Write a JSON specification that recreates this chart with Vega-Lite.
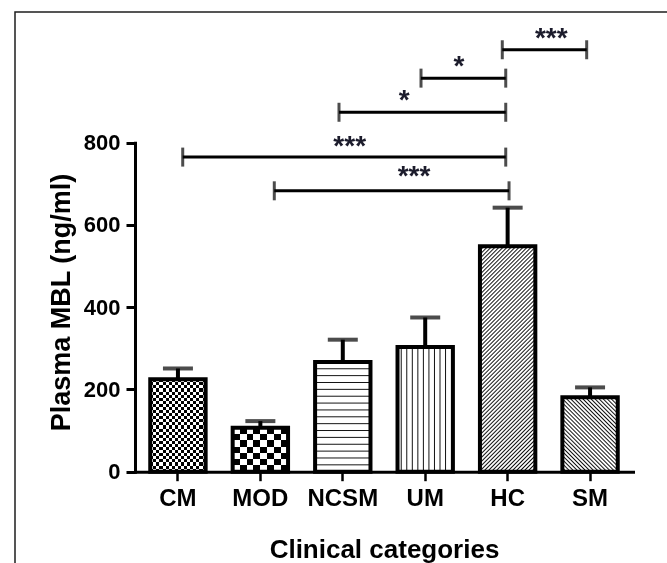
{
  "$schema": "https://vega.github.io/schema/vega-lite/v6.json",
  "width": 660,
  "height": 560,
  "autosize": {"type": "none"},
  "padding": {"left": 15, "top": 12, "right": -8, "bottom": -9},
  "background": "#ffffff",
  "config": {"view": {"stroke": "#1e1e1e", "strokeWidth": 1.5}, "font": "Liberation Sans"},
  "datasets": {
    "bars": [
      {"group": "CM", "mean": 225, "upper": 251},
      {"group": "MOD", "mean": 107, "upper": 123},
      {"group": "NCSM", "mean": 267, "upper": 321},
      {"group": "UM", "mean": 303, "upper": 375},
      {"group": "HC", "mean": 548, "upper": 642},
      {"group": "SM", "mean": 181, "upper": 205}
    ],
    "sig": [
      {"pair": "HC vs SM", "from": 3.935, "to": 4.959, "level": 1026, "label": "***", "lx": 4.53, "ly": 1062},
      {"pair": "UM vs HC", "from": 2.949, "to": 3.977, "level": 957, "label": "*", "lx": 3.41, "ly": 994},
      {"pair": "NCSM vs HC", "from": 1.954, "to": 3.977, "level": 874, "label": "*", "lx": 2.746, "ly": 910},
      {"pair": "CM vs HC", "from": 0.058, "to": 3.977, "level": 765, "label": "***", "lx": 2.084, "ly": 799},
      {"pair": "MOD vs HC", "from": 1.169, "to": 4.017, "level": 683, "label": "***", "lx": 2.864, "ly": 726}
    ]
  },
  "layer": [
    {
      "data": {"name": "bars"},
      "encoding": {
        "x": {
          "field": "group", "type": "nominal", "sort": null,
          "scale": {"domain": ["CM", "MOD", "NCSM", "UM", "HC", "SM"], "range": [120, 618], "paddingInner": 0.328, "paddingOuter": 0.185},
          "axis": {
            "title": "Clinical categories", "labelAngle": 0, "offset": -100.3,
            "domainColor": "#000", "domainWidth": 3, "domainCap": "square",
            "tickColor": "#000", "tickWidth": 2.5, "tickSize": 9,
            "labelFont": "Liberation Sans", "labelFontSize": 24, "labelFontWeight": "bold", "labelColor": "#000", "labelPadding": 6,
            "titleFont": "Liberation Sans", "titleFontSize": 26, "titleFontWeight": "bold", "titleColor": "#000", "titlePadding": 26
          }
        },
        "y": {
          "field": "mean", "type": "quantitative", "title": "Plasma MBL (ng/ml)",
          "scale": {"domain": [0, 800], "range": [459.7, 130.7], "nice": false, "zero": true},
          "axis": {
            "title": "Plasma MBL (ng/ml)", "values": [0, 200, 400, 600, 800], "offset": -120, "grid": false,
            "domainColor": "#000", "domainWidth": 3, "domainCap": "square",
            "tickColor": "#000", "tickWidth": 3, "tickSize": 9,
            "labelFont": "Liberation Sans", "labelFontSize": 22, "labelFontWeight": "bold", "labelColor": "#000", "labelPadding": 6, "labelFlush": false,
            "titleFont": "Liberation Sans", "titleFontSize": 27, "titleFontWeight": "bold", "titleColor": "#000", "titlePadding": 8, "titleY": 290
          }
        }
      },
      "layer": [
        {"mark": {"type": "rule", "strokeWidth": 4, "color": "#000"}, "encoding": {"y2": {"field": "upper"}}},
        {
          "transform": [{"filter": "datum.group === 'CM'"}],
          "mark": {"type": "bar", "fill": {"gradient": "linear", "x1": 0, "y1": 0, "x2": 0, "y2": 1, "stops": [
            {"offset":0,"color":"#000"},
            {"offset":0.0333,"color":"#000"},{"offset":0.0333,"color":"#fff"},
            {"offset":0.0667,"color":"#fff"},{"offset":0.0667,"color":"#000"},
            {"offset":0.1,"color":"#000"},{"offset":0.1,"color":"#fff"},
            {"offset":0.1333,"color":"#fff"},{"offset":0.1333,"color":"#000"},
            {"offset":0.1667,"color":"#000"},{"offset":0.1667,"color":"#fff"},
            {"offset":0.2,"color":"#fff"},{"offset":0.2,"color":"#000"},
            {"offset":0.2333,"color":"#000"},{"offset":0.2333,"color":"#fff"},
            {"offset":0.2667,"color":"#fff"},{"offset":0.2667,"color":"#000"},
            {"offset":0.3,"color":"#000"},{"offset":0.3,"color":"#fff"},
            {"offset":0.3333,"color":"#fff"},{"offset":0.3333,"color":"#000"},
            {"offset":0.3667,"color":"#000"},{"offset":0.3667,"color":"#fff"},
            {"offset":0.4,"color":"#fff"},{"offset":0.4,"color":"#000"},
            {"offset":0.4333,"color":"#000"},{"offset":0.4333,"color":"#fff"},
            {"offset":0.4667,"color":"#fff"},{"offset":0.4667,"color":"#000"},
            {"offset":0.5,"color":"#000"},{"offset":0.5,"color":"#fff"},
            {"offset":0.5333,"color":"#fff"},{"offset":0.5333,"color":"#000"},
            {"offset":0.5667,"color":"#000"},{"offset":0.5667,"color":"#fff"},
            {"offset":0.6,"color":"#fff"},{"offset":0.6,"color":"#000"},
            {"offset":0.6333,"color":"#000"},{"offset":0.6333,"color":"#fff"},
            {"offset":0.6667,"color":"#fff"},{"offset":0.6667,"color":"#000"},
            {"offset":0.7,"color":"#000"},{"offset":0.7,"color":"#fff"},
            {"offset":0.7333,"color":"#fff"},{"offset":0.7333,"color":"#000"},
            {"offset":0.7667,"color":"#000"},{"offset":0.7667,"color":"#fff"},
            {"offset":0.8,"color":"#fff"},{"offset":0.8,"color":"#000"},
            {"offset":0.8333,"color":"#000"},{"offset":0.8333,"color":"#fff"},
            {"offset":0.8667,"color":"#fff"},{"offset":0.8667,"color":"#000"},
            {"offset":0.9,"color":"#000"},{"offset":0.9,"color":"#fff"},
            {"offset":0.9333,"color":"#fff"},{"offset":0.9333,"color":"#000"},
            {"offset":0.9667,"color":"#000"},{"offset":0.9667,"color":"#fff"},
            {"offset":1,"color":"#fff"}
          ]}}
        },
        {
          "transform": [{"filter": "datum.group === 'CM'"}],
          "mark": {"type": "bar", "blend": "difference", "fill": {"gradient": "linear", "x1": 0, "y1": 0, "x2": 1, "y2": 0, "stops": [
            {"offset":0,"color":"#fff"},
            {"offset":0.0556,"color":"#fff"},{"offset":0.0556,"color":"#000"},
            {"offset":0.1111,"color":"#000"},{"offset":0.1111,"color":"#fff"},
            {"offset":0.1667,"color":"#fff"},{"offset":0.1667,"color":"#000"},
            {"offset":0.2222,"color":"#000"},{"offset":0.2222,"color":"#fff"},
            {"offset":0.2778,"color":"#fff"},{"offset":0.2778,"color":"#000"},
            {"offset":0.3333,"color":"#000"},{"offset":0.3333,"color":"#fff"},
            {"offset":0.3889,"color":"#fff"},{"offset":0.3889,"color":"#000"},
            {"offset":0.4444,"color":"#000"},{"offset":0.4444,"color":"#fff"},
            {"offset":0.5,"color":"#fff"},{"offset":0.5,"color":"#000"},
            {"offset":0.5556,"color":"#000"},{"offset":0.5556,"color":"#fff"},
            {"offset":0.6111,"color":"#fff"},{"offset":0.6111,"color":"#000"},
            {"offset":0.6667,"color":"#000"},{"offset":0.6667,"color":"#fff"},
            {"offset":0.7222,"color":"#fff"},{"offset":0.7222,"color":"#000"},
            {"offset":0.7778,"color":"#000"},{"offset":0.7778,"color":"#fff"},
            {"offset":0.8333,"color":"#fff"},{"offset":0.8333,"color":"#000"},
            {"offset":0.8889,"color":"#000"},{"offset":0.8889,"color":"#fff"},
            {"offset":0.9444,"color":"#fff"},{"offset":0.9444,"color":"#000"},
            {"offset":1,"color":"#000"}
          ]}}
        },
        {
          "transform": [{"filter": "datum.group === 'MOD'"}],
          "mark": {"type": "bar", "fill": {"gradient": "linear", "x1": 0, "y1": 0, "x2": 0, "y2": 1, "stops": [
            {"offset":0,"color":"#000"},
            {"offset":0.1429,"color":"#000"},{"offset":0.1429,"color":"#fff"},
            {"offset":0.2857,"color":"#fff"},{"offset":0.2857,"color":"#000"},
            {"offset":0.4286,"color":"#000"},{"offset":0.4286,"color":"#fff"},
            {"offset":0.5714,"color":"#fff"},{"offset":0.5714,"color":"#000"},
            {"offset":0.7143,"color":"#000"},{"offset":0.7143,"color":"#fff"},
            {"offset":0.8571,"color":"#fff"},{"offset":0.8571,"color":"#000"},
            {"offset":1,"color":"#000"}
          ]}}
        },
        {
          "transform": [{"filter": "datum.group === 'MOD'"}],
          "mark": {"type": "bar", "blend": "difference", "fill": {"gradient": "linear", "x1": 0, "y1": 0, "x2": 1, "y2": 0, "stops": [
            {"offset":0,"color":"#fff"},
            {"offset":0.125,"color":"#fff"},{"offset":0.125,"color":"#000"},
            {"offset":0.25,"color":"#000"},{"offset":0.25,"color":"#fff"},
            {"offset":0.375,"color":"#fff"},{"offset":0.375,"color":"#000"},
            {"offset":0.5,"color":"#000"},{"offset":0.5,"color":"#fff"},
            {"offset":0.625,"color":"#fff"},{"offset":0.625,"color":"#000"},
            {"offset":0.75,"color":"#000"},{"offset":0.75,"color":"#fff"},
            {"offset":0.875,"color":"#fff"},{"offset":0.875,"color":"#000"},
            {"offset":1,"color":"#000"}
          ]}}
        },
        {
          "transform": [{"filter": "datum.group === 'NCSM'"}],
          "mark": {"type": "bar", "fill": {"gradient": "linear", "x1": 0, "y1": 0, "x2": 0, "y2": 1, "stops": [
            {"offset":0.0535,"color":"#fff"},{"offset":0.0625,"color":"#111"},{"offset":0.0715,"color":"#fff"},
            {"offset":0.116,"color":"#fff"},{"offset":0.125,"color":"#111"},{"offset":0.134,"color":"#fff"},
            {"offset":0.1785,"color":"#fff"},{"offset":0.1875,"color":"#111"},{"offset":0.1965,"color":"#fff"},
            {"offset":0.241,"color":"#fff"},{"offset":0.25,"color":"#111"},{"offset":0.259,"color":"#fff"},
            {"offset":0.3035,"color":"#fff"},{"offset":0.3125,"color":"#111"},{"offset":0.3215,"color":"#fff"},
            {"offset":0.366,"color":"#fff"},{"offset":0.375,"color":"#111"},{"offset":0.384,"color":"#fff"},
            {"offset":0.4285,"color":"#fff"},{"offset":0.4375,"color":"#111"},{"offset":0.4465,"color":"#fff"},
            {"offset":0.491,"color":"#fff"},{"offset":0.5,"color":"#111"},{"offset":0.509,"color":"#fff"},
            {"offset":0.5535,"color":"#fff"},{"offset":0.5625,"color":"#111"},{"offset":0.5715,"color":"#fff"},
            {"offset":0.616,"color":"#fff"},{"offset":0.625,"color":"#111"},{"offset":0.634,"color":"#fff"},
            {"offset":0.6785,"color":"#fff"},{"offset":0.6875,"color":"#111"},{"offset":0.6965,"color":"#fff"},
            {"offset":0.741,"color":"#fff"},{"offset":0.75,"color":"#111"},{"offset":0.759,"color":"#fff"},
            {"offset":0.8035,"color":"#fff"},{"offset":0.8125,"color":"#111"},{"offset":0.8215,"color":"#fff"},
            {"offset":0.866,"color":"#fff"},{"offset":0.875,"color":"#111"},{"offset":0.884,"color":"#fff"},
            {"offset":0.9285,"color":"#fff"},{"offset":0.9375,"color":"#111"},{"offset":0.9465,"color":"#fff"}
          ]}}
        },
        {
          "transform": [{"filter": "datum.group === 'UM'"}],
          "mark": {"type": "bar", "fill": {"gradient": "linear", "x1": 0, "y1": 0, "x2": 1, "y2": 0, "stops": [
            {"offset":0.049,"color":"#fff"},{"offset":0.067,"color":"#111"},{"offset":0.085,"color":"#fff"},
            {"offset":0.149,"color":"#fff"},{"offset":0.167,"color":"#111"},{"offset":0.185,"color":"#fff"},
            {"offset":0.249,"color":"#fff"},{"offset":0.267,"color":"#111"},{"offset":0.285,"color":"#fff"},
            {"offset":0.349,"color":"#fff"},{"offset":0.367,"color":"#111"},{"offset":0.385,"color":"#fff"},
            {"offset":0.449,"color":"#fff"},{"offset":0.467,"color":"#111"},{"offset":0.485,"color":"#fff"},
            {"offset":0.549,"color":"#fff"},{"offset":0.567,"color":"#111"},{"offset":0.585,"color":"#fff"},
            {"offset":0.649,"color":"#fff"},{"offset":0.667,"color":"#111"},{"offset":0.685,"color":"#fff"},
            {"offset":0.749,"color":"#fff"},{"offset":0.767,"color":"#111"},{"offset":0.785,"color":"#fff"},
            {"offset":0.849,"color":"#fff"},{"offset":0.867,"color":"#111"},{"offset":0.885,"color":"#fff"}
          ]}}
        },
        {
          "transform": [{"filter": "datum.group === 'HC'"}],
          "mark": {"type": "bar", "fill": {"gradient": "linear", "x1": 0, "y1": 0, "x2": 0.28875, "y2": 1.17481, "stops": [
            {"offset":0.0093,"color":"#fff"},{"offset":0.0143,"color":"#111"},{"offset":0.0193,"color":"#fff"},
            {"offset":0.0236,"color":"#fff"},{"offset":0.0286,"color":"#111"},{"offset":0.0336,"color":"#fff"},
            {"offset":0.0379,"color":"#fff"},{"offset":0.0429,"color":"#111"},{"offset":0.0479,"color":"#fff"},
            {"offset":0.0521,"color":"#fff"},{"offset":0.0571,"color":"#111"},{"offset":0.0621,"color":"#fff"},
            {"offset":0.0664,"color":"#fff"},{"offset":0.0714,"color":"#111"},{"offset":0.0764,"color":"#fff"},
            {"offset":0.0807,"color":"#fff"},{"offset":0.0857,"color":"#111"},{"offset":0.0907,"color":"#fff"},
            {"offset":0.095,"color":"#fff"},{"offset":0.1,"color":"#111"},{"offset":0.105,"color":"#fff"},
            {"offset":0.1093,"color":"#fff"},{"offset":0.1143,"color":"#111"},{"offset":0.1193,"color":"#fff"},
            {"offset":0.1236,"color":"#fff"},{"offset":0.1286,"color":"#111"},{"offset":0.1336,"color":"#fff"},
            {"offset":0.1379,"color":"#fff"},{"offset":0.1429,"color":"#111"},{"offset":0.1479,"color":"#fff"},
            {"offset":0.1521,"color":"#fff"},{"offset":0.1571,"color":"#111"},{"offset":0.1621,"color":"#fff"},
            {"offset":0.1664,"color":"#fff"},{"offset":0.1714,"color":"#111"},{"offset":0.1764,"color":"#fff"},
            {"offset":0.1807,"color":"#fff"},{"offset":0.1857,"color":"#111"},{"offset":0.1907,"color":"#fff"},
            {"offset":0.195,"color":"#fff"},{"offset":0.2,"color":"#111"},{"offset":0.205,"color":"#fff"},
            {"offset":0.2093,"color":"#fff"},{"offset":0.2143,"color":"#111"},{"offset":0.2193,"color":"#fff"},
            {"offset":0.2236,"color":"#fff"},{"offset":0.2286,"color":"#111"},{"offset":0.2336,"color":"#fff"},
            {"offset":0.2379,"color":"#fff"},{"offset":0.2429,"color":"#111"},{"offset":0.2479,"color":"#fff"},
            {"offset":0.2521,"color":"#fff"},{"offset":0.2571,"color":"#111"},{"offset":0.2621,"color":"#fff"},
            {"offset":0.2664,"color":"#fff"},{"offset":0.2714,"color":"#111"},{"offset":0.2764,"color":"#fff"},
            {"offset":0.2807,"color":"#fff"},{"offset":0.2857,"color":"#111"},{"offset":0.2907,"color":"#fff"},
            {"offset":0.295,"color":"#fff"},{"offset":0.3,"color":"#111"},{"offset":0.305,"color":"#fff"},
            {"offset":0.3093,"color":"#fff"},{"offset":0.3143,"color":"#111"},{"offset":0.3193,"color":"#fff"},
            {"offset":0.3236,"color":"#fff"},{"offset":0.3286,"color":"#111"},{"offset":0.3336,"color":"#fff"},
            {"offset":0.3379,"color":"#fff"},{"offset":0.3429,"color":"#111"},{"offset":0.3479,"color":"#fff"},
            {"offset":0.3521,"color":"#fff"},{"offset":0.3571,"color":"#111"},{"offset":0.3621,"color":"#fff"},
            {"offset":0.3664,"color":"#fff"},{"offset":0.3714,"color":"#111"},{"offset":0.3764,"color":"#fff"},
            {"offset":0.3807,"color":"#fff"},{"offset":0.3857,"color":"#111"},{"offset":0.3907,"color":"#fff"},
            {"offset":0.395,"color":"#fff"},{"offset":0.4,"color":"#111"},{"offset":0.405,"color":"#fff"},
            {"offset":0.4093,"color":"#fff"},{"offset":0.4143,"color":"#111"},{"offset":0.4193,"color":"#fff"},
            {"offset":0.4236,"color":"#fff"},{"offset":0.4286,"color":"#111"},{"offset":0.4336,"color":"#fff"},
            {"offset":0.4379,"color":"#fff"},{"offset":0.4429,"color":"#111"},{"offset":0.4479,"color":"#fff"},
            {"offset":0.4521,"color":"#fff"},{"offset":0.4571,"color":"#111"},{"offset":0.4621,"color":"#fff"},
            {"offset":0.4664,"color":"#fff"},{"offset":0.4714,"color":"#111"},{"offset":0.4764,"color":"#fff"},
            {"offset":0.4807,"color":"#fff"},{"offset":0.4857,"color":"#111"},{"offset":0.4907,"color":"#fff"},
            {"offset":0.495,"color":"#fff"},{"offset":0.5,"color":"#111"},{"offset":0.505,"color":"#fff"},
            {"offset":0.5093,"color":"#fff"},{"offset":0.5143,"color":"#111"},{"offset":0.5193,"color":"#fff"},
            {"offset":0.5236,"color":"#fff"},{"offset":0.5286,"color":"#111"},{"offset":0.5336,"color":"#fff"},
            {"offset":0.5379,"color":"#fff"},{"offset":0.5429,"color":"#111"},{"offset":0.5479,"color":"#fff"},
            {"offset":0.5521,"color":"#fff"},{"offset":0.5571,"color":"#111"},{"offset":0.5621,"color":"#fff"},
            {"offset":0.5664,"color":"#fff"},{"offset":0.5714,"color":"#111"},{"offset":0.5764,"color":"#fff"},
            {"offset":0.5807,"color":"#fff"},{"offset":0.5857,"color":"#111"},{"offset":0.5907,"color":"#fff"},
            {"offset":0.595,"color":"#fff"},{"offset":0.6,"color":"#111"},{"offset":0.605,"color":"#fff"},
            {"offset":0.6093,"color":"#fff"},{"offset":0.6143,"color":"#111"},{"offset":0.6193,"color":"#fff"},
            {"offset":0.6236,"color":"#fff"},{"offset":0.6286,"color":"#111"},{"offset":0.6336,"color":"#fff"},
            {"offset":0.6379,"color":"#fff"},{"offset":0.6429,"color":"#111"},{"offset":0.6479,"color":"#fff"},
            {"offset":0.6521,"color":"#fff"},{"offset":0.6571,"color":"#111"},{"offset":0.6621,"color":"#fff"},
            {"offset":0.6664,"color":"#fff"},{"offset":0.6714,"color":"#111"},{"offset":0.6764,"color":"#fff"},
            {"offset":0.6807,"color":"#fff"},{"offset":0.6857,"color":"#111"},{"offset":0.6907,"color":"#fff"},
            {"offset":0.695,"color":"#fff"},{"offset":0.7,"color":"#111"},{"offset":0.705,"color":"#fff"},
            {"offset":0.7093,"color":"#fff"},{"offset":0.7143,"color":"#111"},{"offset":0.7193,"color":"#fff"},
            {"offset":0.7236,"color":"#fff"},{"offset":0.7286,"color":"#111"},{"offset":0.7336,"color":"#fff"},
            {"offset":0.7379,"color":"#fff"},{"offset":0.7429,"color":"#111"},{"offset":0.7479,"color":"#fff"},
            {"offset":0.7521,"color":"#fff"},{"offset":0.7571,"color":"#111"},{"offset":0.7621,"color":"#fff"},
            {"offset":0.7664,"color":"#fff"},{"offset":0.7714,"color":"#111"},{"offset":0.7764,"color":"#fff"},
            {"offset":0.7807,"color":"#fff"},{"offset":0.7857,"color":"#111"},{"offset":0.7907,"color":"#fff"},
            {"offset":0.795,"color":"#fff"},{"offset":0.8,"color":"#111"},{"offset":0.805,"color":"#fff"},
            {"offset":0.8093,"color":"#fff"},{"offset":0.8143,"color":"#111"},{"offset":0.8193,"color":"#fff"},
            {"offset":0.8236,"color":"#fff"},{"offset":0.8286,"color":"#111"},{"offset":0.8336,"color":"#fff"},
            {"offset":0.8379,"color":"#fff"},{"offset":0.8429,"color":"#111"},{"offset":0.8479,"color":"#fff"},
            {"offset":0.8521,"color":"#fff"},{"offset":0.8571,"color":"#111"},{"offset":0.8621,"color":"#fff"},
            {"offset":0.8664,"color":"#fff"},{"offset":0.8714,"color":"#111"},{"offset":0.8764,"color":"#fff"},
            {"offset":0.8807,"color":"#fff"},{"offset":0.8857,"color":"#111"},{"offset":0.8907,"color":"#fff"},
            {"offset":0.895,"color":"#fff"},{"offset":0.9,"color":"#111"},{"offset":0.905,"color":"#fff"},
            {"offset":0.9093,"color":"#fff"},{"offset":0.9143,"color":"#111"},{"offset":0.9193,"color":"#fff"},
            {"offset":0.9236,"color":"#fff"},{"offset":0.9286,"color":"#111"},{"offset":0.9336,"color":"#fff"},
            {"offset":0.9379,"color":"#fff"},{"offset":0.9429,"color":"#111"},{"offset":0.9479,"color":"#fff"},
            {"offset":0.9521,"color":"#fff"},{"offset":0.9571,"color":"#111"},{"offset":0.9621,"color":"#fff"},
            {"offset":0.9664,"color":"#fff"},{"offset":0.9714,"color":"#111"},{"offset":0.9764,"color":"#fff"},
            {"offset":0.9807,"color":"#fff"},{"offset":0.9857,"color":"#111"},{"offset":0.9907,"color":"#fff"}
          ]}}
        },
        {
          "transform": [{"filter": "datum.group === 'SM'"}],
          "mark": {"type": "bar", "fill": {"gradient": "linear", "x1": 0, "y1": 1, "x2": 0.8357, "y2": -0.1223, "stops": [
            {"offset":0.0205,"color":"#fff"},{"offset":0.0313,"color":"#111"},{"offset":0.0421,"color":"#fff"},
            {"offset":0.0517,"color":"#fff"},{"offset":0.0625,"color":"#111"},{"offset":0.0733,"color":"#fff"},
            {"offset":0.083,"color":"#fff"},{"offset":0.0938,"color":"#111"},{"offset":0.1046,"color":"#fff"},
            {"offset":0.1142,"color":"#fff"},{"offset":0.125,"color":"#111"},{"offset":0.1358,"color":"#fff"},
            {"offset":0.1455,"color":"#fff"},{"offset":0.1563,"color":"#111"},{"offset":0.1671,"color":"#fff"},
            {"offset":0.1767,"color":"#fff"},{"offset":0.1875,"color":"#111"},{"offset":0.1983,"color":"#fff"},
            {"offset":0.208,"color":"#fff"},{"offset":0.2188,"color":"#111"},{"offset":0.2296,"color":"#fff"},
            {"offset":0.2392,"color":"#fff"},{"offset":0.25,"color":"#111"},{"offset":0.2608,"color":"#fff"},
            {"offset":0.2705,"color":"#fff"},{"offset":0.2813,"color":"#111"},{"offset":0.2921,"color":"#fff"},
            {"offset":0.3017,"color":"#fff"},{"offset":0.3125,"color":"#111"},{"offset":0.3233,"color":"#fff"},
            {"offset":0.333,"color":"#fff"},{"offset":0.3438,"color":"#111"},{"offset":0.3546,"color":"#fff"},
            {"offset":0.3642,"color":"#fff"},{"offset":0.375,"color":"#111"},{"offset":0.3858,"color":"#fff"},
            {"offset":0.3955,"color":"#fff"},{"offset":0.4063,"color":"#111"},{"offset":0.4171,"color":"#fff"},
            {"offset":0.4267,"color":"#fff"},{"offset":0.4375,"color":"#111"},{"offset":0.4483,"color":"#fff"},
            {"offset":0.458,"color":"#fff"},{"offset":0.4688,"color":"#111"},{"offset":0.4796,"color":"#fff"},
            {"offset":0.4892,"color":"#fff"},{"offset":0.5,"color":"#111"},{"offset":0.5108,"color":"#fff"},
            {"offset":0.5205,"color":"#fff"},{"offset":0.5313,"color":"#111"},{"offset":0.5421,"color":"#fff"},
            {"offset":0.5517,"color":"#fff"},{"offset":0.5625,"color":"#111"},{"offset":0.5733,"color":"#fff"},
            {"offset":0.583,"color":"#fff"},{"offset":0.5938,"color":"#111"},{"offset":0.6046,"color":"#fff"},
            {"offset":0.6142,"color":"#fff"},{"offset":0.625,"color":"#111"},{"offset":0.6358,"color":"#fff"},
            {"offset":0.6455,"color":"#fff"},{"offset":0.6563,"color":"#111"},{"offset":0.6671,"color":"#fff"},
            {"offset":0.6767,"color":"#fff"},{"offset":0.6875,"color":"#111"},{"offset":0.6983,"color":"#fff"},
            {"offset":0.708,"color":"#fff"},{"offset":0.7188,"color":"#111"},{"offset":0.7296,"color":"#fff"},
            {"offset":0.7392,"color":"#fff"},{"offset":0.75,"color":"#111"},{"offset":0.7608,"color":"#fff"},
            {"offset":0.7705,"color":"#fff"},{"offset":0.7813,"color":"#111"},{"offset":0.7921,"color":"#fff"},
            {"offset":0.8017,"color":"#fff"},{"offset":0.8125,"color":"#111"},{"offset":0.8233,"color":"#fff"},
            {"offset":0.833,"color":"#fff"},{"offset":0.8438,"color":"#111"},{"offset":0.8546,"color":"#fff"},
            {"offset":0.8642,"color":"#fff"},{"offset":0.875,"color":"#111"},{"offset":0.8858,"color":"#fff"},
            {"offset":0.8955,"color":"#fff"},{"offset":0.9063,"color":"#111"},{"offset":0.9171,"color":"#fff"},
            {"offset":0.9267,"color":"#fff"},{"offset":0.9375,"color":"#111"},{"offset":0.9483,"color":"#fff"},
            {"offset":0.958,"color":"#fff"},{"offset":0.9688,"color":"#111"},{"offset":0.9796,"color":"#fff"}
          ]}}
        },
        {"mark": {"type": "bar", "fill": "transparent", "stroke": "#000", "strokeWidth": 4}},
        {"mark": {"type": "tick", "orient": "horizontal", "size": 30, "thickness": 4, "color": "#000"},
         "encoding": {"y": {"field": "upper", "type": "quantitative", "title": "Plasma MBL (ng/ml)"}}}
      ]
    },
    {
      "data": {"name": "sig"},
      "layer": [
        {"mark": {"type": "rule", "strokeWidth": 3, "color": "#000"},
         "encoding": {
           "x": {"field": "from", "type": "quantitative", "scale": {"domain": [0, 5], "range": [162.94, 575.06], "zero": false, "nice": false}, "axis": null},
           "x2": {"field": "to"},
           "y": {"field": "level", "type": "quantitative", "title": "Plasma MBL (ng/ml)"}
         }},
        {"mark": {"type": "tick", "orient": "vertical", "size": 19, "thickness": 3, "color": "#000"},
         "encoding": {
           "x": {"field": "from", "type": "quantitative", "axis": null},
           "y": {"field": "level", "type": "quantitative", "title": "Plasma MBL (ng/ml)"}
         }},
        {"mark": {"type": "tick", "orient": "vertical", "size": 19, "thickness": 3, "color": "#000"},
         "encoding": {
           "x": {"field": "to", "type": "quantitative", "axis": null},
           "y": {"field": "level", "type": "quantitative", "title": "Plasma MBL (ng/ml)"}
         }},
        {"mark": {"type": "text", "font": "Liberation Sans", "fontSize": 28, "fontWeight": "bold", "color": "#1c1c2c", "baseline": "alphabetic", "dy": 12},
         "encoding": {
           "x": {"field": "lx", "type": "quantitative", "axis": null},
           "y": {"field": "ly", "type": "quantitative", "title": "Plasma MBL (ng/ml)"},
           "text": {"field": "label"}
         }}
      ]
    }
  ],
  "resolve": {"scale": {"x": "independent"}}
}
